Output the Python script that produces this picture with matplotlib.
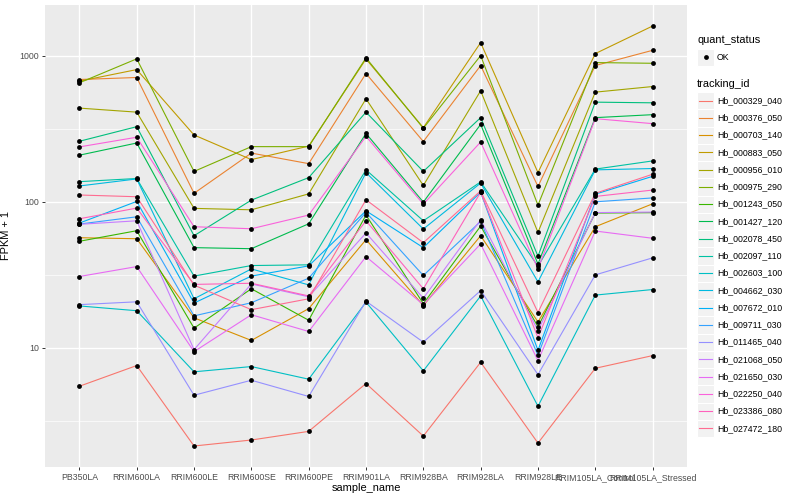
import numpy as np
import matplotlib.pyplot as plt
from matplotlib.patches import Rectangle
from matplotlib.ticker import FixedLocator, NullFormatter

plt.rcParams['font.family'] = ['Liberation Sans', 'DejaVu Sans']

# Data (FPKM + 1)
samples = ["PB350LA", "RRIM600LA", "RRIM600LE", "RRIM600SE", "RRIM600PE",
           "RRIM901LA", "RRIM928BA", "RRIM928LA", "RRIM928LE",
           "RRIM105LA_Control", "RRIM105LA_Stressed"]

tracking_ids = ["Hb_000329_040", "Hb_000376_050", "Hb_000703_140", "Hb_000883_050",
                "Hb_000956_010", "Hb_000975_290", "Hb_001243_050", "Hb_001427_120",
                "Hb_002078_450", "Hb_002097_110", "Hb_002603_100", "Hb_004662_030",
                "Hb_007672_010", "Hb_009711_030", "Hb_011465_040", "Hb_021068_050",
                "Hb_021650_030", "Hb_022250_040", "Hb_023386_080", "Hb_027472_180"]

# ggplot hue palette, 20 levels
colores = ["#F8766D", "#EA8331", "#D89000", "#C09B00", "#A3A500", "#7CAE00",
           "#39B600", "#00BB4E", "#00BF7D", "#00C1A3", "#00BFC4", "#00BAE0",
           "#00B0F6", "#35A2FF", "#9590FF", "#C77CFF", "#E76BF3", "#FA62DB",
           "#FF62BC", "#FF6C91"]

hb_000329_040 = [5.44, 7.54, 2.12, 2.33, 2.67, 5.68, 2.48, 7.94, 2.22, 7.22, 8.82]
hb_000376_050 = [686, 708, 114, 215, 182, 754, 258, 855, 127, 855, 1087]
hb_000703_140 = [56.6, 55.7, 16.0, 11.2, 18.5, 54.9, 19.4, 58.4, 15.0, 67.3, 96.6]
hb_000883_050 = [668, 802, 286, 194, 240, 948, 321, 1227, 158, 1032, 1595]
hb_000956_010 = [437, 410, 89.9, 87.9, 113, 506, 129, 574, 61.6, 562, 614]
hb_000975_290 = [651, 950, 161, 238, 238, 965, 318, 1000, 94.6, 896, 886]
hb_001243_050 = [53.5, 63.2, 13.6, 25.3, 15.4, 80.9, 20.0, 68.0, 13.9, 83.5, 84.0]
hb_001427_120 = [208, 252, 48.4, 47.6, 70.5, 293, 99.2, 338, 37.4, 376, 394]
hb_002078_450 = [259, 326, 58.4, 102.4, 146, 410, 161, 376, 42.3, 480, 475]
hb_002097_110 = [137, 144, 30.9, 36.5, 36.9, 165, 73.9, 136.5, 36.1, 167, 190]
hb_002603_100 = [19.3, 17.9, 6.83, 7.42, 6.08, 20.5, 6.93, 22.6, 3.97, 22.9, 25.0]
hb_004662_030 = [128, 143, 21.6, 34.6, 26.9, 158, 64.9, 134, 28.2, 165, 168.5]
hb_007672_010 = [71.3, 100.3, 20.2, 30.9, 36.3, 86.5, 48.4, 116, 9.58, 112.5, 149]
hb_009711_030 = [70.2, 78.7, 16.5, 20.3, 29.9, 84.4, 31.2, 73.2, 8.86, 99.7, 106]
hb_011465_040 = [19.7, 20.6, 4.72, 5.98, 4.63, 20.8, 10.9, 24.6, 6.54, 31.5, 41.2]
hb_021068_050 = [69.9, 73.9, 9.69, 27.3, 22.3, 61.0, 21.8, 75.1, 13.1, 84.1, 84.8]
hb_021650_030 = [30.7, 35.9, 9.39, 16.8, 12.9, 42.0, 19.7, 51.3, 8.15, 62.9, 56.1]
hb_022250_040 = [237, 276, 67.3, 65.2, 80.9, 280, 96.1, 256, 34.6, 370, 342]
hb_023386_080 = [76.3, 90.3, 27.1, 27.6, 22.6, 73.9, 25.3, 116, 11.7, 108.5, 120]
hb_027472_180 = [111, 108, 26.8, 18.2, 21.6, 103, 52.3, 118.5, 17.4, 114, 154]

series = [hb_000329_040, hb_000376_050, hb_000703_140, hb_000883_050, hb_000956_010,
          hb_000975_290, hb_001243_050, hb_001427_120, hb_002078_450, hb_002097_110,
          hb_002603_100, hb_004662_030, hb_007672_010, hb_009711_030, hb_011465_040,
          hb_021068_050, hb_021650_030, hb_022250_040, hb_023386_080, hb_027472_180]

# -------------------------------------------------------------------
# Figure
# -------------------------------------------------------------------
fig = plt.figure(figsize=(8, 5), dpi=100)
ax = fig.add_axes([45 / 800, 33 / 500, 642 / 800, 462 / 500])
ax.set_facecolor("#EBEBEB")
for s in ax.spines.values():
    s.set_visible(False)

x = np.arange(len(samples))
for valores, c in zip(series, colores):
    ax.plot(x, valores, color=c, lw=0.8, zorder=2)
for valores in series:
    ax.scatter(x, valores, s=12, color="black", zorder=3, linewidths=0)

# log scale with ggplot-like 5% expansion
todos = np.log10(np.concatenate([np.array(v) for v in series]))
rango = todos.max() - todos.min()
ax.set_yscale("log")
ax.set_ylim(10 ** (todos.min() - 0.05 * rango), 10 ** (todos.max() + 0.05 * rango))
ax.set_xlim(-0.6, len(samples) - 0.4)

ax.yaxis.set_major_locator(FixedLocator([10, 100, 1000]))
ax.yaxis.set_minor_locator(FixedLocator([10 ** 0.5, 10 ** 1.5, 10 ** 2.5]))
ax.yaxis.set_minor_formatter(NullFormatter())
ax.set_yticklabels(["10", "100", "1000"])
ax.set_xticks(x)
ax.set_xticklabels(samples)

ax.grid(True, which="major", color="white", lw=1.0, zorder=0)
ax.grid(True, which="minor", axis="y", color="white", lw=0.5, zorder=0)
ax.set_axisbelow(True)

ax.tick_params(axis="both", which="major", length=2.5, width=0.7, color="#333333",
               labelsize=6.3, labelcolor="#4D4D4D", pad=1.8)
ax.tick_params(axis="y", which="minor", length=0)

ax.set_xlabel("sample_name", fontsize=7.9, labelpad=1)
ax.set_ylabel("FPKM + 1", fontsize=7.9, labelpad=6)

# -------------------------------------------------------------------
# Legends (drawn in figure pixel coordinates)
# -------------------------------------------------------------------
lax = fig.add_axes([0, 0, 1, 1], facecolor="none")
lax.set_xlim(0, 800)
lax.set_ylim(500, 0)
lax.axis("off")

x0 = 697
lax.text(x0, 40, "quant_status", fontsize=7.9, va="center", ha="left")
lax.add_patch(Rectangle((x0, 48.5), 17, 17, facecolor="#F2F2F2", edgecolor="white", lw=0.8))
lax.scatter([x0 + 8.5], [57], s=12, color="black", linewidths=0)
lax.text(x0 + 20, 57, "OK", fontsize=6.3, va="center", ha="left")

lax.text(x0, 84.3, "tracking_id", fontsize=7.9, va="center", ha="left")
for i, (tid, c) in enumerate(zip(tracking_ids, colores)):
    yc = 100.7 + 17.25 * i
    lax.add_patch(Rectangle((x0, yc - 8.6), 17, 17.2, facecolor="#F2F2F2",
                            edgecolor="white", lw=0.8))
    lax.plot([x0 + 1.7, x0 + 15.3], [yc, yc], color=c, lw=0.8)
    lax.text(x0 + 20, yc, tid, fontsize=6.3, va="center", ha="left")

fig.savefig("out.png", dpi=100)
